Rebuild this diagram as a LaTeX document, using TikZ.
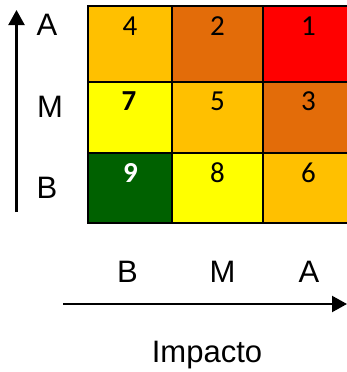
\documentclass[tikz,border=0pt]{standalone}
\usepackage{fontspec}
\setmainfont{Liberation Sans}
\newfontfamily\calib{Carlito}
\usetikzlibrary{arrows.meta}
\definecolor{cgold}{HTML}{FFC000}
\definecolor{corange}{HTML}{E36C09}
\definecolor{cred}{HTML}{FF0000}
\definecolor{cyellow}{HTML}{FFFF00}
\definecolor{cgreen}{HTML}{006100}
\begin{document}
\begin{tikzpicture}[x=1pt,y=-1pt,
  axlabel/.style={anchor=base, inner sep=0pt, font=\fontsize{31}{31}\selectfont},
  digit/.style={anchor=base, inner sep=0pt, font=\calib\fontsize{29}{29}\selectfont},
  gridline/.style={draw=black, line width=2.3pt},
  axis/.style={line width=2.2pt, -{Triangle[length=15pt,width=16pt]}}]
\useasboundingbox (0,0) rectangle (347,372);
% cells
\fill[cgold]   (88,6)   rectangle (172,82);
\fill[corange] (172,6)  rectangle (263,82);
\fill[cred]    (263,6)  rectangle (354,82);
\fill[cyellow] (88,82)  rectangle (172,153);
\fill[cgold]   (172,82) rectangle (263,153);
\fill[corange] (263,82) rectangle (354,153);
\fill[cgreen]  (88,153) rectangle (172,223);
\fill[cyellow] (172,153) rectangle (263,223);
\fill[cgold]   (263,153) rectangle (354,223);
% grid
\draw[gridline] (88,6) rectangle (354,223);
\draw[gridline] (172,6) -- (172,223);
\draw[gridline] (263,6) -- (263,223);
\draw[gridline] (88,82) -- (354,82);
\draw[gridline] (88,153) -- (354,153);
% digits
\node[digit] (d4) at (130,35) {4};
\node[digit] (d2) at (217.5,35) {2};
\node[digit] (d1) at (308.5,35) {1};
\node[digit] (d7) at (129,110) {\bfseries 7};
\node[digit] (d5) at (217.5,110) {5};
\node[digit] (d3) at (308.5,110) {3};
\node[digit, text=white] (d9) at (130.5,182) {\bfseries 9};
\node[digit] (d8) at (217.5,182) {8};
\node[digit] (d6) at (308.5,182) {6};
% axis labels
\node[axlabel] (lA) at (47,35) {A};
\node[axlabel] (lM) at (50,117) {M};
\node[axlabel] (lB) at (47,198) {B};
\node[axlabel] (bB) at (127.5,282) {B};
\node[axlabel] (bM) at (222.5,282) {M};
\node[axlabel] (bA) at (309,282) {A};
\node[axlabel] (imp) at (207,362) {Impacto};
% arrows
\coordinate (vs) at (16.5,212);
\coordinate (ve) at (16.5,10);
\coordinate (hs) at (63,304);
\coordinate (he) at (347,304);
\draw[axis] (vs) -- (ve);
\draw[axis] (hs) -- (he);
\end{tikzpicture}
\end{document}
